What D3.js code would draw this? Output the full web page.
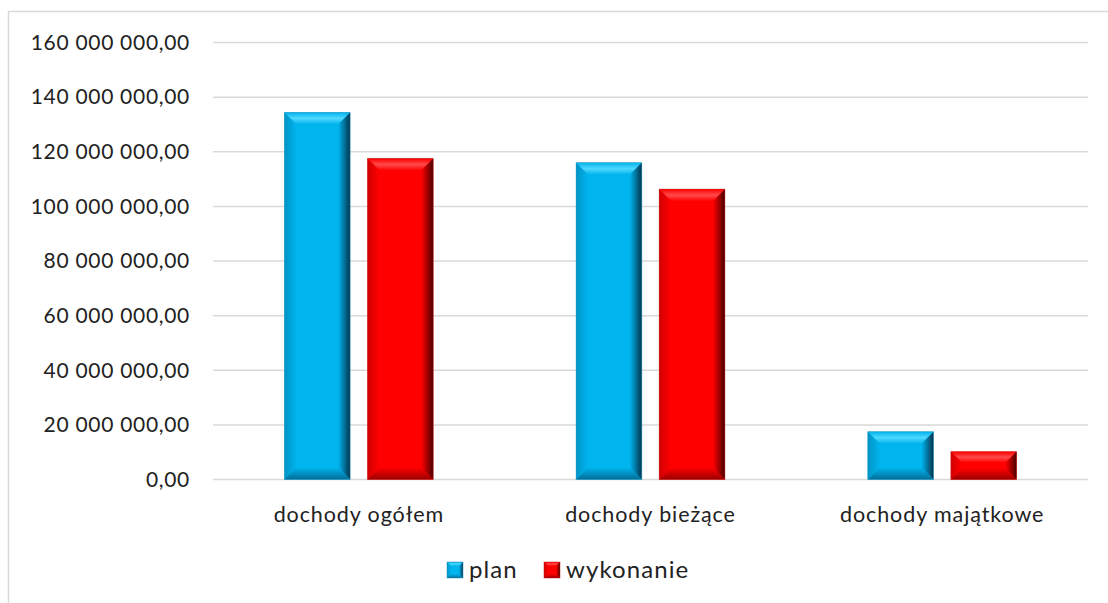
<!DOCTYPE html>
<html>
<head>
<meta charset="utf-8">
<script src="https://cdn.jsdelivr.net/npm/d3@7"></script>
<style>
  html, body { margin: 0; padding: 0; background: #fff; }
  svg { display: block; font-family: Lato, "Open Sans", sans-serif; }
</style>
</head>
<body>
<div id="chart"></div>
<script>
// dane wykresu
const categories = ["dochody ogółem", "dochody bieżące", "dochody majątkowe"];
const seriesNames = ["plan", "wykonanie"];
const planValues = [134400000, 116000000, 17500000];
const wykonanieValues = [117500000, 106300000, 10200000];
const yTicks = [0, 20000000, 40000000, 60000000, 80000000, 100000000, 120000000, 140000000, 160000000];

const W = 1108, H = 603;
const plot = { left: 213, right: 1088, top: 42.5, bottom: 479.5 };

// kolory: baza, jasny (góra), ciemny (bok/dół)
const palette = {
  plan: { base: "#00B4EE", light: "#4FD8FF", dark: "#03354F", edge: "#2a90b8" },
  wykonanie: { base: "#FF0000", light: "#FF4A4A", dark: "#4A0000", edge: "#c02020" }
};

const pl = d3.formatLocale({ decimal: ",", thousands: "\u00a0", grouping: [3], currency: ["", ""] });
const fmt = pl.format(",.2f");

const svg = d3.select("#chart").append("svg")
  .attr("width", W).attr("height", H);

// ramka wykresu
svg.append("rect")
  .attr("x", 8.5).attr("y", 11.5)
  .attr("width", W + 20).attr("height", H + 20)
  .attr("fill", "none").attr("stroke", "#d9d9d9").attr("stroke-width", 1.5);

const y = d3.scaleLinear().domain([0, 160000000]).range([plot.bottom, plot.top]);
const x0 = d3.scaleBand().domain(categories).range([plot.left, plot.right]);
const bw = x0.bandwidth();
const x1 = d3.scaleBand().domain(seriesNames)
  .range([bw * 0.245, bw * 0.755]).paddingInner(0.21);

// siatka
svg.append("g").selectAll("line").data(yTicks).enter().append("line")
  .attr("x1", plot.left).attr("x2", plot.right)
  .attr("y1", d => y(d)).attr("y2", d => y(d))
  .attr("stroke", "#d9d9d9").attr("stroke-width", 1.5);

// etykiety osi Y
svg.append("g").selectAll("text").data(yTicks).enter().append("text")
  .attr("x", 190).attr("y", d => y(d))
  .attr("dy", "0.35em")
  .attr("text-anchor", "end")
  .attr("font-size", 21)
  .attr("letter-spacing", 0.7)
  .attr("fill", "#222")
  .text(d => fmt(d));

// etykiety kategorii
svg.append("g").selectAll("text").data(categories).enter().append("text")
  .attr("x", d => x0(d) + bw / 2).attr("y", 522)
  .attr("text-anchor", "middle")
  .attr("font-size", 21.5)
  .attr("letter-spacing", 0.9)
  .attr("fill", "#222")
  .text(d => d);

// gradienty
const defs = svg.append("defs");
Object.keys(palette).forEach(k => {
  const c = palette[k];
  const gr = defs.append("linearGradient").attr("id", "right-" + k)
    .attr("x1", 0).attr("x2", 1).attr("y1", 0).attr("y2", 0);
  gr.append("stop").attr("offset", 0).attr("stop-color", c.base);
  gr.append("stop").attr("offset", 1).attr("stop-color", c.dark);
  const gt = defs.append("linearGradient").attr("id", "top-" + k)
    .attr("x1", 0).attr("x2", 0).attr("y1", 0).attr("y2", 1);
  gt.append("stop").attr("offset", 0).attr("stop-color", c.base);
  gt.append("stop").attr("offset", 0.5).attr("stop-color", c.light);
  gt.append("stop").attr("offset", 1).attr("stop-color", c.base);
  const gb = defs.append("linearGradient").attr("id", "bot-" + k)
    .attr("x1", 0).attr("x2", 0).attr("y1", 0).attr("y2", 1);
  gb.append("stop").attr("offset", 0).attr("stop-color", c.base);
  gb.append("stop").attr("offset", 1).attr("stop-color", d3.interpolateRgb(c.base, c.dark)(0.55));
  const gl = defs.append("linearGradient").attr("id", "left-" + k)
    .attr("x1", 0).attr("x2", 1).attr("y1", 0).attr("y2", 0);
  gl.append("stop").attr("offset", 0).attr("stop-color", d3.interpolateRgb(c.base, c.dark)(0.25));
  gl.append("stop").attr("offset", 1).attr("stop-color", c.base);
});

// dane słupków
const bars = [];
categories.forEach((cat, i) => {
  bars.push({ cat: cat, s: "plan", v: planValues[i] });
  bars.push({ cat: cat, s: "wykonanie", v: wykonanieValues[i] });
});

function bevelBar(g, x, yTop, w, h, key) {
  const c = palette[key];
  const b = Math.min(12, h / 2.5, w / 4);
  const xr = x + w, yb = yTop + h;
  g.append("rect").attr("x", x).attr("y", yTop).attr("width", w).attr("height", h)
    .attr("fill", c.base);
  // góra
  g.append("polygon")
    .attr("points", [[x, yTop], [xr, yTop], [xr - b, yTop + b], [x + b, yTop + b]].join(" "))
    .attr("fill", "url(#top-" + key + ")");
  // lewo
  g.append("polygon")
    .attr("points", [[x, yTop], [x + b, yTop + b], [x + b, yb - b], [x, yb]].join(" "))
    .attr("fill", "url(#left-" + key + ")");
  // prawo
  g.append("polygon")
    .attr("points", [[xr, yTop], [xr, yb], [xr - b, yb - b], [xr - b, yTop + b]].join(" "))
    .attr("fill", "url(#right-" + key + ")");
  // dół
  g.append("polygon")
    .attr("points", [[x, yb], [x + b, yb - b], [xr - b, yb - b], [xr, yb]].join(" "))
    .attr("fill", "url(#bot-" + key + ")");
  g.append("rect").attr("x", x).attr("y", yTop).attr("width", w).attr("height", h)
    .attr("fill", "none").attr("stroke", c.edge).attr("stroke-width", 0.8).attr("stroke-opacity", 0.6);
}

const barG = svg.append("g");
bars.forEach(d => {
  const g = barG.append("g");
  bevelBar(g, x0(d.cat) + x1(d.s), y(d.v), x1.bandwidth(), y(0) - y(d.v), d.s);
});

// legenda
const legend = svg.append("g");
const legendItems = [
  { s: "plan", x: 447, tx: 469 },
  { s: "wykonanie", x: 544, tx: 566 }
];
legendItems.forEach(it => {
  const g = legend.append("g");
  bevelBar(g, it.x, 562, 16, 16, it.s);
  g.append("text").attr("x", it.tx).attr("y", 570)
    .attr("dy", "0.35em")
    .attr("font-size", 24)
    .attr("letter-spacing", 1.1)
    .attr("fill", "#222")
    .text(it.s);
});
</script>
</body>
</html>
